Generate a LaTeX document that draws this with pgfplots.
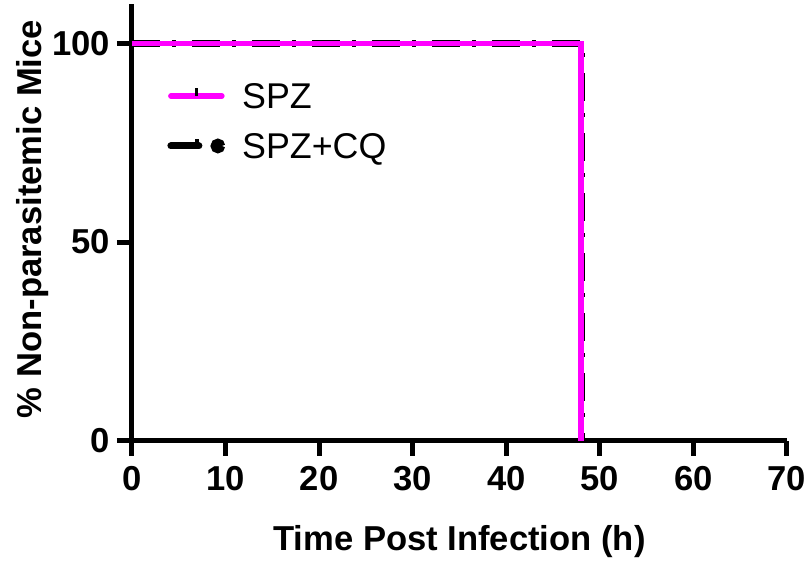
\documentclass[border=0pt]{standalone}
\usepackage{pgfplots}
\pgfplotsset{compat=1.18}
\usepackage{fontspec}
\setmainfont{Liberation Sans}
\definecolor{spz}{RGB}{255,0,255}
\begin{document}
\begin{tikzpicture}[x=1pt,y=1pt]
\useasboundingbox (-66,-63.15) rectangle (339,220.35);
\begin{axis}[
  at={(0pt,0pt)}, anchor=south west,
  scale only axis, width=327.5pt, height=218.55pt,
  xmin=0, xmax=70, ymin=0, ymax=110,
  axis lines*=left,
  axis line style={line width=2.5pt, black},
  xtick={0,10,...,70}, ytick={0,50,100},
  tick align=outside, major tick length=7.5pt,
  every tick/.style={line width=2.5pt, black},
  /pgf/number format/assume math mode=true,
  ticklabel style={font=\fontsize{17.3}{20}\selectfont\bfseries},
  xticklabel style={yshift=-2pt},
  yticklabel style={xshift=0pt},
  xlabel={Time Post Infection (h)},
  ylabel={\% Non-parasitemic Mice},
  label style={font=\fontsize{17.3}{20}\selectfont\bfseries},
  xlabel style={at={(axis description cs:0.5,-0.2501)}, anchor=base},
  ylabel style={at={(axis description cs:-0.1374,0.514)}, anchor=base, rotate=0, xshift=-1.5pt},
  clip=false,
  reverse legend,
  legend cell align=left,
  legend style={draw=none, fill=none, at={(axis cs:3.74,90)}, anchor=north west,
    inner sep=0pt, column sep=8.5pt, row sep=12.5pt,
    nodes={inner sep=0pt, text height=12.5pt, text depth=0pt},
    font=\fontsize{17.9}{20}\selectfont},
]
\addplot[black, line width=3.3pt, dash pattern=on 14pt off 6pt on 2pt off 8pt,
  legend image code/.code={
    \draw[black, line width=3.5pt, line cap=round] (0pt,0pt) -- (16pt,0pt);
    \draw[black, line width=2pt] (13pt,0pt) -- (13pt,3.5pt);
    \fill[black] (23.5pt,0pt) circle (2pt);
  }] coordinates {(0,100) (48.1,100) (48.1,0)};
\addplot[spz, line width=2.75pt,
  legend image code/.code={
    \draw[spz, line width=2.75pt, line cap=round] (0pt,0pt) -- (25.5pt,0pt);
    \draw[black, line width=1.5pt] (13pt,0pt) -- (13pt,4pt);
  }] coordinates {(0,100) (48,100) (48,0)};
\legend{SPZ+CQ, SPZ}
\end{axis}
\end{tikzpicture}
\end{document}
